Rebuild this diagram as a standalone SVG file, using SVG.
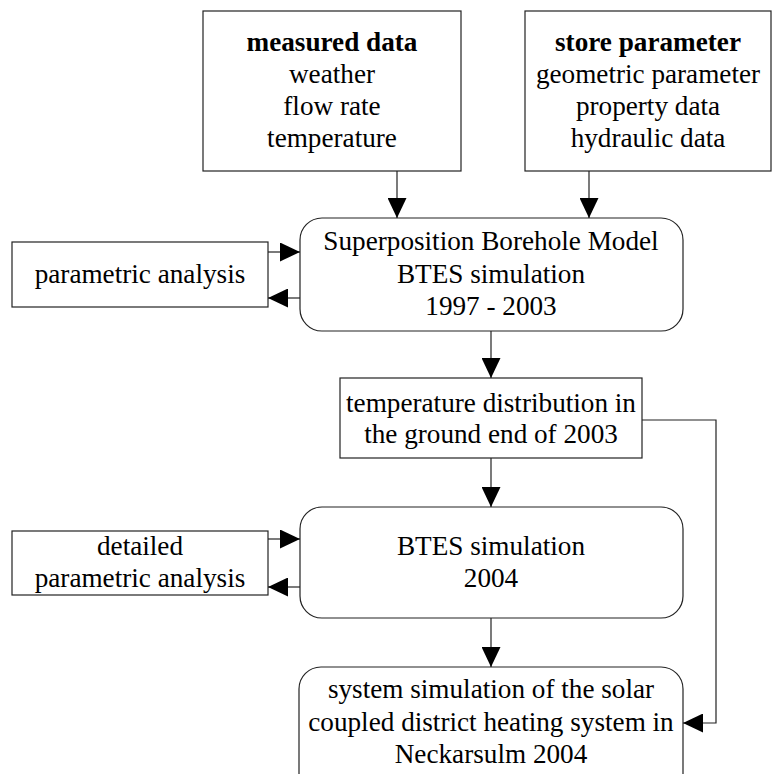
<svg xmlns="http://www.w3.org/2000/svg" width="773" height="774" viewBox="0 0 773 774">
  <style>
    .box { fill: #fff; stroke: #222; stroke-width: 1.2; }
    .lbl { font-family: "Liberation Serif", "Times New Roman", serif; font-size: 27.2px; fill: #000; text-anchor: middle; }
    .b { font-weight: bold; }
    .edge { fill: none; stroke: #222; stroke-width: 1.2; }
  </style>
  <defs>
    <marker id="arr" markerUnits="userSpaceOnUse" markerWidth="20" markerHeight="19" refX="20" refY="9.5" orient="auto">
      <path d="M0,0 L20,9.5 L0,19 z" fill="#000"/>
    </marker>
  </defs>
  <rect width="773" height="774" fill="#fff"/>

  <g id="measured">
    <rect class="box" x="203" y="11" width="258" height="160"/>
    <text class="lbl" x="332" y="51"><tspan class="b">measured data</tspan><tspan x="332" dy="32">weather</tspan><tspan x="332" dy="32">flow rate</tspan><tspan x="332" dy="32">temperature</tspan></text>
  </g>

  <g id="store">
    <rect class="box" x="525" y="11" width="246" height="160"/>
    <text class="lbl" x="648" y="51"><tspan class="b">store parameter</tspan><tspan x="648" dy="32">geometric parameter</tspan><tspan x="648" dy="32">property data</tspan><tspan x="648" dy="32">hydraulic data</tspan></text>
  </g>

  <g id="sbm">
    <rect class="box" x="300" y="218" width="383" height="113" rx="22" ry="22"/>
    <text class="lbl" x="491" y="250">Superposition Borehole Model<tspan x="491" dy="32.5">BTES simulation</tspan><tspan x="491" dy="32.5">1997 - 2003</tspan></text>
  </g>

  <g id="param">
    <rect class="box" x="12" y="242" width="256" height="65"/>
    <text class="lbl" x="140" y="283">parametric analysis</text>
  </g>

  <g id="tempdist">
    <rect class="box" x="340" y="378" width="302" height="80"/>
    <text class="lbl" x="491" y="412">temperature distribution in<tspan x="491" dy="31">the ground end of 2003</tspan></text>
  </g>

  <g id="btes2004">
    <rect class="box" x="300" y="507" width="383" height="111" rx="22" ry="22"/>
    <text class="lbl" x="491" y="555">BTES simulation<tspan x="491" dy="32">2004</tspan></text>
  </g>

  <g id="detailed">
    <rect class="box" x="12" y="531" width="256" height="64"/>
    <text class="lbl" x="140" y="555">detailed<tspan x="140" dy="32">parametric analysis</tspan></text>
  </g>

  <g id="system">
    <rect class="box" x="299" y="667" width="384" height="140" rx="22" ry="22"/>
    <text class="lbl" x="491" y="698">system simulation of the solar<tspan x="491" dy="32.5">coupled district heating system in</tspan><tspan x="491" dy="32.5">Neckarsulm 2004</tspan></text>
  </g>

  <g id="connectors">
    <path class="edge" d="M397,171 V218" marker-end="url(#arr)"/>
    <path class="edge" d="M589,171 V218" marker-end="url(#arr)"/>
    <path class="edge" d="M268,252 H300" marker-end="url(#arr)"/>
    <path class="edge" d="M300,298 H268" marker-end="url(#arr)"/>
    <path class="edge" d="M491,331 V378" marker-end="url(#arr)"/>
    <path class="edge" d="M491,458 V507" marker-end="url(#arr)"/>
    <path class="edge" d="M268,539 H300" marker-end="url(#arr)"/>
    <path class="edge" d="M300,587 H268" marker-end="url(#arr)"/>
    <path class="edge" d="M491,618 V667" marker-end="url(#arr)"/>
    <path class="edge" d="M642,420 H716 V723 H683" marker-end="url(#arr)"/>
  </g>
</svg>
